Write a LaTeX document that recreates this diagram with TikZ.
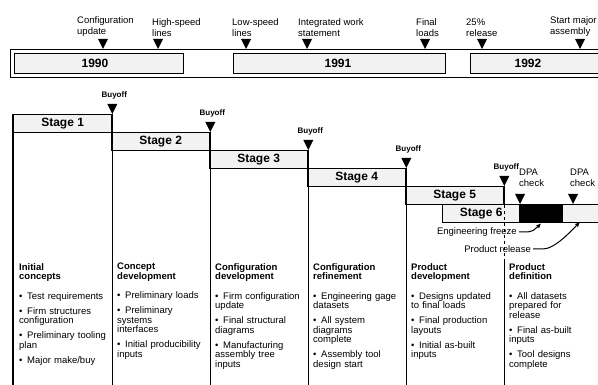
\documentclass[tikz,border=0pt]{standalone}
\usepackage{fontspec}
\setmainfont{Liberation Sans}
\usetikzlibrary{arrows.meta,positioning}

\tikzset{
  yearbox/.style={draw,line width=1.3pt,fill=gray!10,inner sep=0pt,anchor=north west,minimum height=20pt},
  yeartext/.style={inner sep=0pt,font=\fontsize{12}{12}\selectfont\bfseries},
  stagebox/.style={draw,line width=1.3pt,fill=gray!10,inner sep=0pt,anchor=north west,minimum height=18pt,font=\fontsize{12}{12}\selectfont\bfseries},
  msnote/.style={inner sep=0pt,align=left,font=\fontsize{9.5}{11}\selectfont},
  buyoff/.style={inner sep=0pt,font=\fontsize{8}{9}\selectfont\bfseries},
  coltext/.style={inner sep=0pt,anchor=north west,text width=95pt,align=left,font=\fontsize{9.5}{9.5}\selectfont},
  divline/.style={line width=1.1pt},
  leader/.style={line width=1pt,-{Latex[length=5pt,width=4.5pt]}},
}
\newcommand{\mstri}[1]{\fill #1 ++(-5,-10) -- ++(10,0) -- ++(-5,10) -- cycle;}
\newcommand{\colhead}[1]{{\bfseries #1}\par\vspace{4.5pt}}
\newcommand{\bitem}[1]{\par\vspace{5.5pt}\hangindent=8pt\hangafter=1\noindent\makebox[8pt][l]{\textbullet}#1}

\begin{document}
\begin{tikzpicture}[x=1pt,y=-1pt]
\useasboundingbox (0,0) rectangle (598,385);
\clip (0,0) rectangle (598,385);
\coordinate (bot) at (0,385);

% time line with the years
\draw[line width=0.9pt] (10,49) rectangle (615,77);
\node[yearbox,minimum width=169pt] (y1) at (14,53) {};
\node[yearbox,minimum width=212pt] (y2) at (233,53) {};
\node[yearbox,minimum width=150pt] (y3) at (470,53) {};
\node[yeartext] (yt1) at (95,63) {1990};
\node[yeartext] (yt2) at (338,63) {1991};
\node[yeartext] (yt3) at (528,63) {1992};
\foreach \lx/\tx/\txt [count=\i] in {77/103/{Configuration\\update},152/158/{High-speed\\lines},
  232/246/{Low-speed\\lines},298/307/{Integrated work\\statement},416/425/{Final\\loads},
  466/482/{25\%\\release},550/580/{Start major\\assembly}}{
  \node[msnote,anchor=south west] (ms\i) at (\lx,37) {\txt};
  \mstri{(\tx,49)}
}

% stages
\node[stagebox,minimum width=98pt] (s1) at (13,114) {Stage 1};
\node[stagebox,minimum width=98pt] (s2) at (111,132) {Stage 2};
\node[stagebox,minimum width=98pt] (s3) at (209,150) {Stage 3};
\node[stagebox,minimum width=98pt] (s4) at (307,168) {Stage 4};
\node[stagebox,minimum width=98pt] (s5) at (405,186) {Stage 5};
\node[stagebox,minimum width=77pt] (s6) at (442,204) {Stage 6};
\node[stagebox,minimum width=43pt,fill=black] (s6k) at (519,204) {};
\node[stagebox,minimum width=60pt] (s6r) at (562,204) {};

% column lines
\draw[divline] (s1.north west) -- (s1.north west |- bot);
\foreach \s in {1,...,4}
  \draw[divline] (s\s.north east) -- (s\s.north east |- bot);
\coordinate (dashend) at ([yshift=-54pt]s5.south east);
\draw[divline] (s5.north east) -- (s5.south east);
\draw[divline,dashed] (s5.south east) -- (dashend);
\draw[divline] (dashend) -- (dashend |- bot);

% buyoffs and checks
\foreach \s in {1,...,5}{
  \mstri{(s\s.north east)}
  \node[buyoff,anchor=south] (bo\s) at ([xshift=2pt,yshift=15pt]s\s.north east) {Buyoff};
}
\mstri{([xshift=1pt]s6k.north west)}
\mstri{([xshift=11pt]s6r.north west)}
\node[msnote,anchor=south west] (dpa1) at ([yshift=17pt]s6k.north west) {DPA\\check};
\node[msnote,anchor=south west] (dpa2) at ([xshift=8pt,yshift=17pt]s6r.north west) {DPA\\check};

\node[msnote,anchor=east] (ef) at (517,232) {Engineering freeze};
\node[msnote,anchor=east] (pr) at (531,249) {Product release};
\coordinate (prtip) at (580,222);
\draw[leader] ([xshift=2pt]ef.east) -- ++(6,0) .. controls +(8,0) and +(-6,6) .. (s6k.south);
\draw[leader] ([xshift=2pt]pr.east) -- ++(10,0) .. controls +(12,0) and +(-8,8) .. (prtip);

% what each stage delivers
\node[coltext] (c1) at (19,263) {\colhead{Initial\\concepts}\bitem{Test requirements}
  \bitem{Firm structures\\configuration}\bitem{Preliminary tooling\\plan}\bitem{Major make/buy}};
\node[coltext] (c2) at (117,263) {\colhead{Concept\\development}\bitem{Preliminary loads}
  \bitem{Preliminary\\systems\\interfaces}\bitem{Initial producibility\\inputs}};
\node[coltext] (c3) at (215,263) {\colhead{Configuration\\development}\bitem{Firm configuration\\update}
  \bitem{Final structural\\diagrams}\bitem{Manufacturing\\assembly tree\\inputs}};
\node[coltext] (c4) at (313,263) {\colhead{Configuration\\refinement}\bitem{Engineering gage\\datasets}
  \bitem{All system\\diagrams\\complete}\bitem{Assembly tool\\design start}};
\node[coltext] (c5) at (411,263) {\colhead{Product\\development}\bitem{Designs updated\\to final loads}
  \bitem{Final production\\layouts}\bitem{Initial as-built\\inputs}};
\node[coltext] (c6) at (509,263) {\colhead{Product\\definition}\bitem{All datasets\\prepared for\\release}
  \bitem{Final as-built\\inputs}\bitem{Tool designs\\complete}};
\end{tikzpicture}
\end{document}
